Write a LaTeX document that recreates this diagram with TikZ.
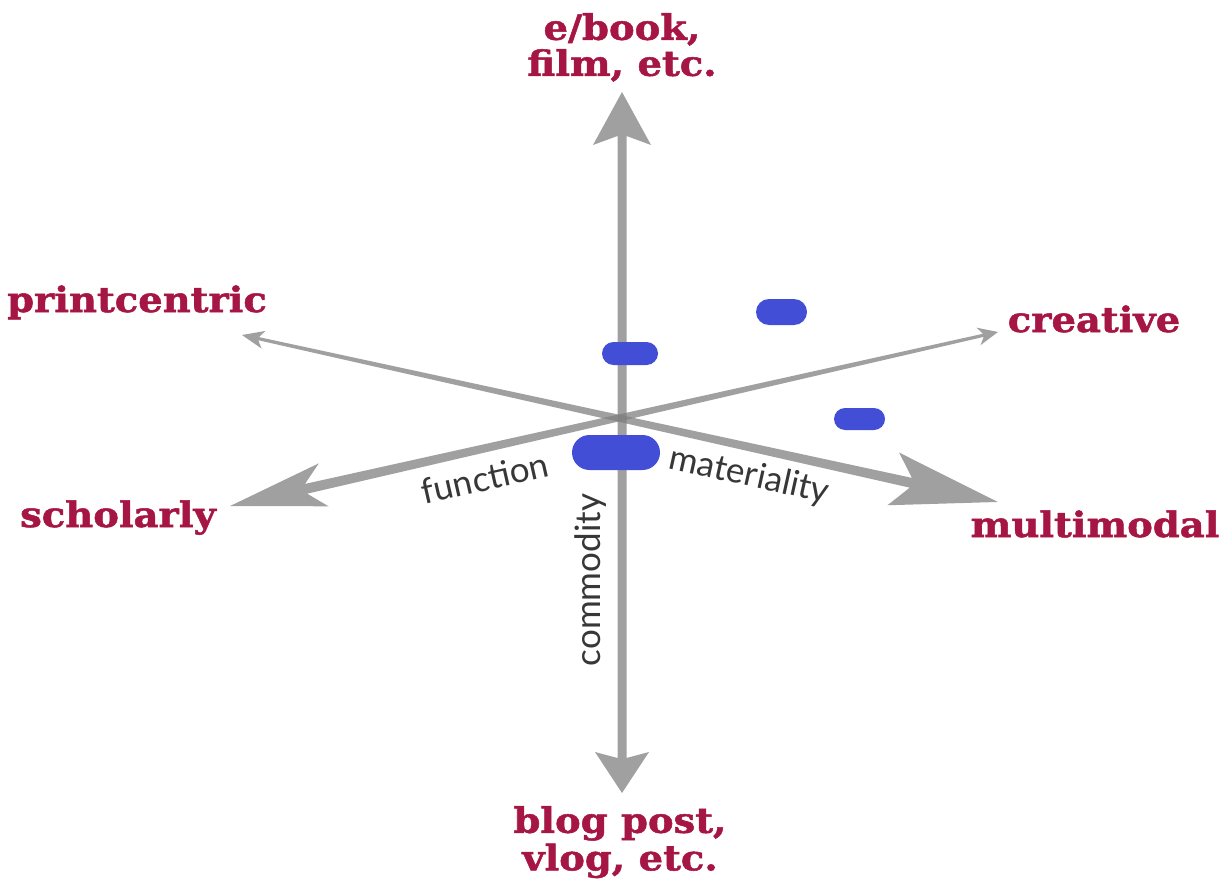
\documentclass[tikz,border=0pt]{standalone}
\usepackage{fontspec}
\newfontfamily\labfont{DejaVu Serif}[UprightFont={* Bold}, FakeBold=1.5, FakeStretch=1.1]
\newfontfamily\axfont{Lato}
\usetikzlibrary{shapes.misc}
\definecolor{labred}{RGB}{166,22,68}
\definecolor{pillblue}{RGB}{67,78,214}
\definecolor{axgray}{RGB}{128,128,128}
\definecolor{axtext}{RGB}{55,55,55}
\begin{document}
\begin{tikzpicture}[x=1pt,y=-1pt,
  axisshape/.style={fill=axgray, fill opacity=0.75, draw=none},
  pill/.style={rounded rectangle, fill=pillblue, draw=none, inner sep=0pt},
  pole/.style={font=\labfont\fontsize{35}{36}\selectfont, text=labred, inner sep=0pt, align=center},
  axlabel/.style={font=\axfont\fontsize{35}{35}\selectfont, text=axtext, inner sep=0pt}]
\useasboundingbox (0,0) rectangle (1229,880);
% vertical axis (commodity)
\fill[axisshape] (622,92) -- (651,145) -- (626.5,136) -- (626.5,758) -- (649,752) -- (622,793) -- (595,752) -- (617.5,758) -- (617.5,136) -- (593,145) -- cycle;
% printcentric -> multimodal (materiality)
\begin{scope}[shift={(242,335)}, rotate=-12.46]
\fill[axisshape] (0,0) -- (22,-9) -- (17,-1.6) -- (685,-5) -- (667,-27) -- (774,0) -- (667,27) -- (685,5) -- (17,1.6) -- (22,9) -- cycle;
\end{scope}
% creative -> scholarly (function)
\begin{scope}[shift={(998,332)}, rotate=192.77]
\fill[axisshape] (0,0) -- (20,-9) -- (15,-1.6) -- (709.5,-5) -- (691.5,-22) -- (787.5,0) -- (691.5,22) -- (709.5,5) -- (15,1.6) -- (20,9) -- cycle;
\end{scope}
% blue markers
\node[pill, minimum width=56pt, minimum height=23pt] (p1) at (630,353.5) {};
\node[pill, minimum width=88pt, minimum height=35pt] (p2) at (616,452.5) {};
\node[pill, minimum width=51pt, minimum height=26pt] (p3) at (781.5,312) {};
\node[pill, minimum width=51pt, minimum height=22pt] (p4) at (859.5,419) {};
% pole labels
\node[pole, anchor=base] (pc) at (137,312) {printcentric};
\node[pole, anchor=base] (sch) at (118,527) {scholarly};
\node[pole, anchor=base] (cr) at (1094,332) {creative};
\node[pole, anchor=base] (mm) at (1095,537) {multimodal};
\node[pole, anchor=north] (eb) at (622,13) {e/book,\\film, etc.};
\node[pole, anchor=north, font=\labfont\fontsize{35}{37.5}\selectfont] (bp) at (620,806) {blog post,\\vlog, etc.};
% axis labels
\node[axlabel, rotate=12.8] (fn) at (485,478) {function};
\node[axlabel, rotate=-12.5] (mat) at (749,476) {materiality};
\node[axlabel, rotate=90] (com) at (591,580) {commodity};
\end{tikzpicture}
\end{document}
